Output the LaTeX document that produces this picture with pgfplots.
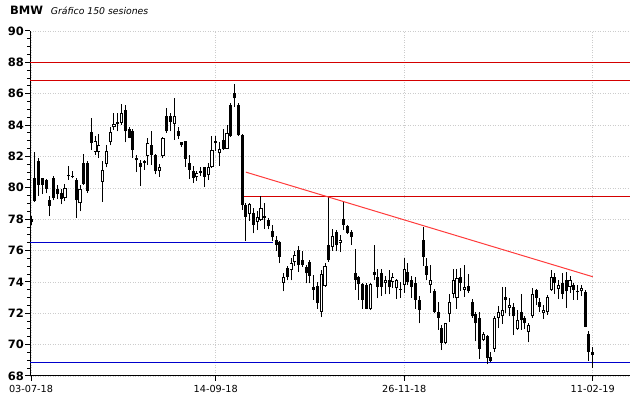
\documentclass[border=0pt]{standalone}
\usepackage{fontspec}
\setmainfont{DejaVu Sans}
\usepackage{pgfplots}
\usepackage{pgfplotstable}
\pgfplotsset{compat=1.18}
\definecolor{resred}{HTML}{D40000}
\definecolor{supblue}{HTML}{0000CC}
\definecolor{trendred}{HTML}{FF3B3B}

\pgfplotstableread{
i o h l c
0 78.0 78.2 77.6 77.8
1 80.6 82.3 79.1 79.15
2 81.7 81.9 79.5 80.2
3 80.6 80.6 79.6 80.2
4 80.5 80.55 79.65 79.95
5 79.25 79.5 78.2 78.85
6 80.6 80.75 79.2 79.35
7 79.9 80.15 79.3 79.6
8 79.7 79.9 78.95 79.3
9 79.35 80.25 79.15 80.0
10 80.75 81.4 80.5 80.8
11 80.75 81.05 80.6 80.7
12 80.5 80.65 78.1 79.2
13 79.0 80.2 78.5 79.95
14 81.6 82.15 80.2 80.25
15 81.6 81.7 79.7 79.8
16 83.55 84.45 82.4 82.85
17 82.3 83.3 82.1 83.0
18 82.3 83.4 81.9 82.7
19 80.4 81.7 79.1 81.15
20 81.55 82.75 81.3 82.35
21 82.9 83.85 82.7 83.55
22 83.85 84.8 83.7 84.05
23 84.2 84.8 83.6 84.1
24 84.15 85.35 84.0 84.75
25 84.95 85.3 82.9 83.6
26 83.75 83.85 83.15 83.2
27 83.6 83.75 81.9 82.4
28 81.9 82.1 81.0 81.75
29 81.6 81.8 80.1 81.35
30 81.6 81.8 81.15 81.7
31 82.05 83.15 81.45 82.85
32 82.75 83.6 81.45 82.1
33 82.1 82.15 80.85 81.1
34 81.1 81.5 80.7 81.3
35 82.0 83.25 81.9 83.2
36 84.6 85.1 83.5 83.6
37 84.6 84.75 83.6 84.2
38 84.1 85.7 83.05 84.6
39 83.65 83.9 83.1 83.3
40 82.9 82.95 82.6 82.7
41 83.0 83.0 81.35 81.85
42 81.6 82.1 80.55 81.15
43 81.05 81.4 80.3 80.65
44 80.7 81.05 80.45 80.95
45 80.95 81.35 80.75 81.05
46 81.3 81.3 80.05 80.7
47 80.8 81.6 80.5 81.3
48 81.3 83.3 81.25 82.4
49 83.0 83.3 82.35 82.85
50 82.2 82.95 81.4 82.5
51 83.05 83.75 82.4 82.45
52 82.5 84.0 82.5 83.5
53 85.3 85.4 83.25 83.3
54 86.05 86.65 85.15 85.7
55 85.3 85.4 83.3 83.35
56 83.35 83.4 78.6 78.9
57 78.9 79.0 76.6 78.15
58 78.35 79.0 77.9 78.95
59 78.4 78.7 77.1 77.65
60 77.85 78.55 77.3 78.15
61 77.95 79.45 77.9 78.7
62 78.2 79.0 77.4 78.1
63 77.95 78.1 77.35 77.55
64 77.25 77.65 76.6 76.85
65 76.7 76.9 76.0 76.35
66 76.55 76.6 75.2 75.6
67 73.95 74.55 73.4 74.3
68 74.9 75.0 74.1 74.3
69 74.75 75.5 74.1 75.2
70 75.25 75.95 75.0 75.7
71 76.05 76.3 74.65 75.1
72 75.4 75.95 74.95 75.1
73 74.95 75.05 73.9 74.55
74 75.3 75.4 73.9 74.4
75 73.65 74.45 72.85 73.5
76 73.75 74.0 72.3 72.65
77 72.1 74.75 71.75 74.5
78 73.75 75.2 73.7 75.0
79 76.35 79.4 75.3 75.4
80 76.25 77.35 76.0 76.95
81 77.2 77.3 75.95 76.35
82 76.45 77.0 75.9 76.7
83 78.0 79.1 77.3 77.65
84 77.55 77.6 77.05 77.15
85 77.2 77.3 76.35 76.85
86 74.55 76.1 73.5 74.15
87 74.3 74.35 72.85 73.85
88 73.85 73.9 72.3 72.85
89 73.8 73.9 72.25 72.3
90 72.3 73.9 72.2 73.85
91 74.6 76.35 74.1 74.45
92 74.3 74.85 72.95 73.7
93 74.55 74.85 73.1 73.7
94 73.95 74.4 73.2 74.15
95 74.15 74.75 73.2 73.65
96 74.0 74.55 73.6 74.3
97 73.6 74.2 72.9 74.1
98 73.55 74.0 73.0 73.5
99 73.8 75.5 73.3 74.85
100 74.6 75.2 73.8 74.0
101 74.15 74.4 73.0 73.7
102 73.9 74.3 72.3 72.85
103 72.85 73.1 71.35 72.2
104 76.65 77.5 75.0 75.6
105 75.0 75.5 74.1 74.45
106 73.8 75.1 73.3 74.1
107 73.4 73.55 72.0 72.1
108 72.1 72.75 70.95 71.7
109 71.05 71.25 69.65 70.1
110 70.1 71.4 70.05 71.35
111 71.95 73.25 71.45 72.75
112 73.25 74.8 72.95 74.15
113 72.95 74.85 72.3 74.25
114 74.3 74.9 73.4 73.95
115 73.5 75.05 73.05 73.7
116 73.75 74.5 73.3 73.4
117 72.75 72.9 71.7 71.8
118 71.95 72.1 70.2 71.35
119 71.7 72.1 69.1 69.75
120 70.3 70.8 70.2 70.65
121 70.55 70.6 68.75 69.15
122 69.2 69.5 68.9 68.95
123 69.75 71.8 69.55 71.7
124 71.7 72.45 71.05 72.05
125 71.8 73.7 71.3 72.2
126 73.05 73.7 72.0 72.85
127 72.35 72.95 71.8 72.55
128 72.4 72.65 70.6 71.8
129 71.0 72.2 70.95 71.55
130 72.05 73.2 70.95 71.55
131 71.7 71.85 71.0 71.35
132 70.8 71.4 70.15 71.25
133 71.8 73.6 71.7 73.25
134 73.5 73.55 72.5 73.0
135 72.7 72.95 72.1 72.4
136 72.0 72.55 71.65 72.2
137 72.05 73.15 71.9 73.05
138 73.5 74.75 73.45 74.3
139 74.3 74.55 73.25 73.95
140 73.55 74.1 72.9 73.8
141 73.9 74.55 72.9 73.25
142 74.1 74.6 72.35 73.4
143 73.7 74.4 73.3 74.1
144 73.8 73.9 72.85 73.5
145 73.4 73.8 72.85 73.35
146 73.4 73.8 73.1 73.6
147 73.35 73.5 71.1 71.15
148 70.7 70.9 68.95 69.55
149 69.55 69.85 68.5 69.35
}\candles

\begin{document}
\begin{tikzpicture}
\useasboundingbox (0pt,0pt) rectangle (640pt,398pt);
\node[anchor=base west, inner sep=0pt, font=\bfseries\fontsize{11.5}{13}\selectfont] at (10pt,383pt) {BMW};
\node[anchor=base west, inner sep=0pt, font=\itshape\fontsize{9.3}{11}\selectfont] at (50.7pt,383pt) {Gráfico 150 sesiones};
\begin{axis}[
  at={(30pt,22pt)}, anchor=south west, scale only axis,
  width=600pt, height=345pt,
  xmin=-0.27, xmax=158.9, ymin=68, ymax=90,
  axis x line*=bottom, axis y line*=left,
  axis line style={-, line width=1pt, black},
  xtick={0,49,99,149},
  xticklabels={03-07-18,14-09-18,26-11-18,11-02-19},
  ytick={68,70,...,90},
  yticklabels={68,70,72,74,76,78,80,82,84,86,88,90},
  minor y tick num=3,
  tick align=outside,
  major tick length=5pt, minor tick length=3pt,
  tick style={black, line width=1pt},
  yticklabel style={font=\bfseries\fontsize{11.5}{12}\selectfont, inner sep=1pt},
  xticklabel style={font=\fontsize{9.7}{11}\selectfont, inner sep=1pt, yshift=-3.5pt},
  grid=major,
  major grid style={line width=0.6pt, color=gray!40, dash pattern=on 1pt off 1.5pt},
]
% horizontal levels
\addplot[resred, line width=1pt] coordinates {(-0.27,88) (158.9,88)};
\addplot[resred, line width=1pt] coordinates {(-0.27,86.83) (158.9,86.83)};
\addplot[resred, line width=1pt] coordinates {(56.5,79.42) (158.9,79.42)};
\addplot[supblue, line width=1pt] coordinates {(-0.27,76.53) (64.1,76.53)};
\addplot[supblue, line width=1pt] coordinates {(-0.27,68.84) (158.9,68.84)};
% wicks
\addplot[black, line width=1pt, line cap=butt, -, forget plot,
  quiver={u=0, v={\thisrow{h}-\thisrow{l}}}]
  table[x=i, y=l] {\candles};
% bearish bodies
\addplot[black, line width=3pt, line cap=butt, -, forget plot,
  quiver={u=0, v={max(\thisrow{o}-\thisrow{c},0)}}]
  table[x=i, y=c] {\candles};
% bullish bodies outline
\addplot[black, line width=3.2pt, line cap=butt, -, forget plot,
  quiver={u=0, v={max(\thisrow{c}-\thisrow{o},0)}}]
  table[x=i, y=o] {\candles};
% bullish bodies inside
\addplot[white, line width=1.3pt, line cap=butt, -, forget plot,
  quiver={u=0, v={max(\thisrow{c}-\thisrow{o}-0.128,0)}}]
  table[x=i, y expr={\thisrow{o}+0.064}] {\candles};
% trend line
\addplot[trendred, line width=1pt] coordinates {(57,81.0) (149,74.33)};
\end{axis}
\end{tikzpicture}
\end{document}
